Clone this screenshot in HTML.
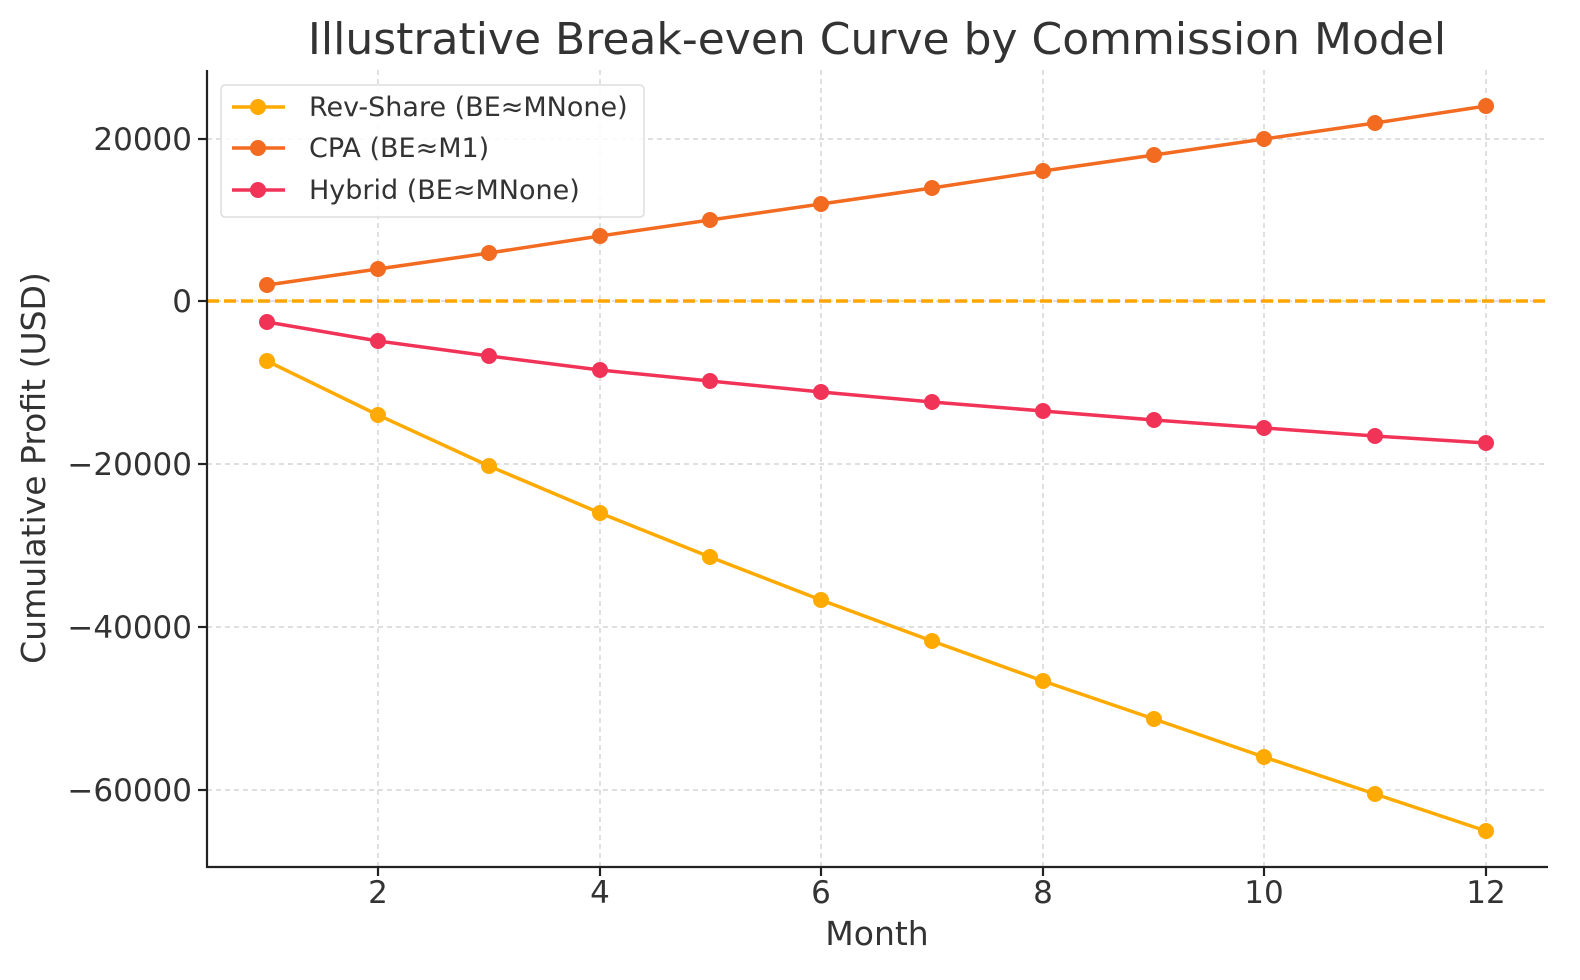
<!DOCTYPE html>
<html><head><meta charset="utf-8"><style>body{margin:0;background:#fff}svg{display:block}text{font-family:"DejaVu Sans","Liberation Sans",sans-serif;fill:#333}</style></head>
<body>
<svg width="1580" height="980" viewBox="0 0 1580 980">
<rect width="1580" height="980" fill="#fff"/>
<g stroke="#ccc" stroke-width="1.2" stroke-dasharray="5,4">
<line x1="378" y1="70" x2="378" y2="867"/><line x1="600" y1="70" x2="600" y2="867"/><line x1="821" y1="70" x2="821" y2="867"/><line x1="1043" y1="70" x2="1043" y2="867"/><line x1="1264" y1="70" x2="1264" y2="867"/><line x1="1486" y1="70" x2="1486" y2="867"/>
<line x1="207" y1="139" x2="1548" y2="139"/><line x1="207" y1="301" x2="1548" y2="301"/><line x1="207" y1="464" x2="1548" y2="464"/><line x1="207" y1="627" x2="1548" y2="627"/><line x1="207" y1="790" x2="1548" y2="790"/>
</g>
<line x1="207" y1="301" x2="1548" y2="301" stroke="#FFA500" stroke-width="3.5" stroke-dasharray="12,5"/>
<g fill="none" stroke-width="3.5">
<polyline stroke="#FFAA00" points="267,361 378,415 489,466 600,513 710,557 821,600 932,641 1043,681 1154,719 1264,757 1375,794 1486,831"/>
<polyline stroke="#F26B21" points="267,285 378,269 489,253 600,236 710,220 821,204 932,188 1043,171 1154,155 1264,139 1375,123 1486,106"/>
<polyline stroke="#F23358" points="267,322 378,341 489,356 600,370 710,381 821,392 932,402 1043,411 1154,420 1264,428 1375,436 1486,443"/>
</g>
<g fill="#FFAA00"><circle cx="267" cy="361" r="8"/><circle cx="378" cy="415" r="8"/><circle cx="489" cy="466" r="8"/><circle cx="600" cy="513" r="8"/><circle cx="710" cy="557" r="8"/><circle cx="821" cy="600" r="8"/><circle cx="932" cy="641" r="8"/><circle cx="1043" cy="681" r="8"/><circle cx="1154" cy="719" r="8"/><circle cx="1264" cy="757" r="8"/><circle cx="1375" cy="794" r="8"/><circle cx="1486" cy="831" r="8"/></g>
<g fill="#F26B21"><circle cx="267" cy="285" r="8"/><circle cx="378" cy="269" r="8"/><circle cx="489" cy="253" r="8"/><circle cx="600" cy="236" r="8"/><circle cx="710" cy="220" r="8"/><circle cx="821" cy="204" r="8"/><circle cx="932" cy="188" r="8"/><circle cx="1043" cy="171" r="8"/><circle cx="1154" cy="155" r="8"/><circle cx="1264" cy="139" r="8"/><circle cx="1375" cy="123" r="8"/><circle cx="1486" cy="106" r="8"/></g>
<g fill="#F23358"><circle cx="267" cy="322" r="8"/><circle cx="378" cy="341" r="8"/><circle cx="489" cy="356" r="8"/><circle cx="600" cy="370" r="8"/><circle cx="710" cy="381" r="8"/><circle cx="821" cy="392" r="8"/><circle cx="932" cy="402" r="8"/><circle cx="1043" cy="411" r="8"/><circle cx="1154" cy="420" r="8"/><circle cx="1264" cy="428" r="8"/><circle cx="1375" cy="436" r="8"/><circle cx="1486" cy="443" r="8"/></g>
<g stroke="#222" stroke-width="2.2"><line x1="207" y1="70" x2="207" y2="868"/><line x1="206" y1="867" x2="1548" y2="867"/>
<line x1="378" y1="867" x2="378" y2="876"/><line x1="600" y1="867" x2="600" y2="876"/><line x1="821" y1="867" x2="821" y2="876"/><line x1="1043" y1="867" x2="1043" y2="876"/><line x1="1264" y1="867" x2="1264" y2="876"/><line x1="1486" y1="867" x2="1486" y2="876"/>
<line x1="198" y1="139" x2="207" y2="139"/><line x1="198" y1="301" x2="207" y2="301"/><line x1="198" y1="464" x2="207" y2="464"/><line x1="198" y1="627" x2="207" y2="627"/><line x1="198" y1="790" x2="207" y2="790"/></g>
<g font-size="31" text-anchor="middle"><text x="378" y="903">2</text><text x="600" y="903">4</text><text x="821" y="903">6</text><text x="1043" y="903">8</text><text x="1264" y="903">10</text><text x="1486" y="903">12</text></g>
<g font-size="31" text-anchor="end"><text x="192" y="150">20000</text><text x="192" y="312">0</text><text x="192" y="475">−20000</text><text x="192" y="638">−40000</text><text x="192" y="801">−60000</text></g>
<text x="877" y="945" font-size="33" text-anchor="middle">Month</text>
<text transform="translate(45,468) rotate(-90)" font-size="33" text-anchor="middle">Cumulative Profit (USD)</text>
<text x="877" y="54" font-size="44" text-anchor="middle">Illustrative Break-even Curve by Commission Model</text>
<rect x="221" y="85" width="423" height="132" rx="4" fill="#fff" fill-opacity="0.85" stroke="#ddd" stroke-width="1.5"/>
<line x1="232" y1="107" x2="285" y2="107" stroke="#FFAA00" stroke-width="3.5"/><circle cx="258" cy="107" r="8" fill="#FFAA00"/>
<line x1="232" y1="148" x2="285" y2="148" stroke="#F26B21" stroke-width="3.5"/><circle cx="258" cy="148" r="8" fill="#F26B21"/>
<line x1="232" y1="190" x2="285" y2="190" stroke="#F23358" stroke-width="3.5"/><circle cx="258" cy="190" r="8" fill="#F23358"/>
<g font-size="27"><text x="309" y="116">Rev-Share (BE≈MNone)</text><text x="309" y="157">CPA (BE≈M1)</text><text x="309" y="199">Hybrid (BE≈MNone)</text></g>
</svg>
</body></html>
